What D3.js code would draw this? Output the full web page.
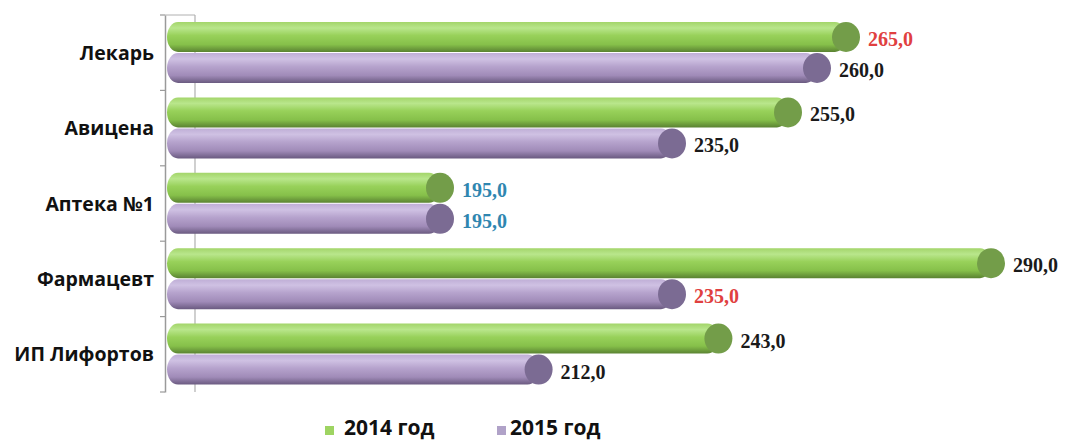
<!DOCTYPE html>
<html><head><meta charset="utf-8">
<script src="https://cdn.jsdelivr.net/npm/d3@7"></script>
<style>body{margin:0;background:#fff}svg{display:block}</style>
</head><body>
<script>
const categories = ["Лекарь","Авицена","Аптека №1","Фармацевт","ИП Лифортов"];
const series = ["2014 год","2015 год"];
const values2014 = [265,255,195,290,243];
const values2015 = [260,235,195,235,212];
const labelColors2014 = ["#e04040","#1a1a1a","#2f86b0","#1a1a1a","#1a1a1a"];
const labelColors2015 = ["#1a1a1a","#1a1a1a","#2f86b0","#e04040","#1a1a1a"];
const axisDomain = [150, 300];

const W=1066,H=441;
const svg=d3.select("body").append("svg").attr("width",W).attr("height",H);
const defs=svg.append("defs");
function grad(id,stops){
  const g=defs.append("linearGradient").attr("id",id).attr("x1",0).attr("y1",0).attr("x2",0).attr("y2",1);
  stops.forEach(s=>g.append("stop").attr("offset",s[0]).attr("stop-color",s[1]));
}
grad("gGreen",[[0,"#a3d56a"],[0.2,"#b9e68c"],[0.45,"#98d15a"],[0.75,"#86c04a"],[1,"#5a8232"]]);
grad("gPurple",[[0,"#bfaed6"],[0.2,"#cfc1e3"],[0.45,"#b6a3cd"],[0.75,"#a08bb8"],[1,"#6a5a80"]]);

const x=d3.scaleLinear().domain(axisDomain).range([193,1063]);
const y=d3.scaleBand().domain(categories).range([15,392]).padding(0);
const depth=26;
const barH=30, capRx=14;
const axisX=165;

// back wall line & axis
svg.append("line").attr("x1",195).attr("x2",195).attr("y1",15).attr("y2",392).attr("stroke","#b0b0b0").attr("stroke-width",1.2);
svg.append("line").attr("x1",axisX).attr("x2",195).attr("y1",15).attr("y2",15).attr("stroke","#b0b0b0");
const yAxis=d3.axisLeft(y).tickSize(0).tickFormat("");
const ag=svg.append("g").attr("transform",`translate(${axisX},0)`).call(yAxis);
ag.select(".domain").attr("stroke","#9a9a9a").attr("stroke-width",1.5);
const bounds=categories.map(c=>y(c)).concat([392]);
svg.selectAll(".tk").data(bounds).join("line").attr("x1",axisX-5).attr("x2",axisX).attr("y1",d=>d).attr("y2",d=>d).attr("stroke","#9a9a9a").attr("stroke-width",1.2);

// category labels
svg.selectAll(".cat").data(categories).join("text")
  .attr("x",154).attr("y",c=>y(c)+y.bandwidth()/2+7)
  .attr("text-anchor","end").attr("font-family","Open Sans, sans-serif").attr("font-weight","bold").attr("font-size",19.5).attr("fill","#111")
  .text(c=>c);

const data=[];
categories.forEach((c,i)=>{
  data.push({c,v:values2014[i],s:0,col:labelColors2014[i]});
  data.push({c,v:values2015[i],s:1,col:labelColors2015[i]});
});
const left=x(axisDomain[0])-depth;
const g=svg.selectAll(".bar").data(data).join("g");
g.append("rect")
  .attr("x",left).attr("y",d=>y(d.c)+7+d.s*(barH+1))
  .attr("width",d=>x(d.v)-capRx-left).attr("height",barH).attr("rx",11).attr("ry",barH/2)
  .attr("fill",d=>d.s?"url(#gPurple)":"url(#gGreen)");
g.append("ellipse")
  .attr("cx",d=>x(d.v)-capRx).attr("cy",d=>y(d.c)+7+d.s*(barH+1)+barH/2)
  .attr("rx",capRx).attr("ry",barH/2)
  .attr("fill",d=>d.s?"#7b6b93":"#739d49");
g.append("text")
  .attr("x",d=>x(d.v)+8).attr("y",d=>y(d.c)+7+d.s*(barH+1)+barH/2+9)
  .attr("font-family","Liberation Serif, Times New Roman, serif").attr("font-weight","bold").attr("font-size",20)
  .attr("fill",d=>d.col).text(d=>d3.format(".1f")(d.v).replace(".",","));

// legend
const leg=[{t:series[0],c:"#9ed462",x:325,tx:344},{t:series[1],c:"#b0a2c8",x:497,tx:510}];
leg.forEach(l=>{
  svg.append("rect").attr("x",l.x).attr("y",426).attr("width",9).attr("height",9).attr("fill",l.c);
  svg.append("text").attr("x",l.tx).attr("y",435).attr("font-family","Open Sans, sans-serif").attr("font-weight","bold").attr("font-size",21).attr("fill","#111").text(l.t);
});
</script>
</body></html>
